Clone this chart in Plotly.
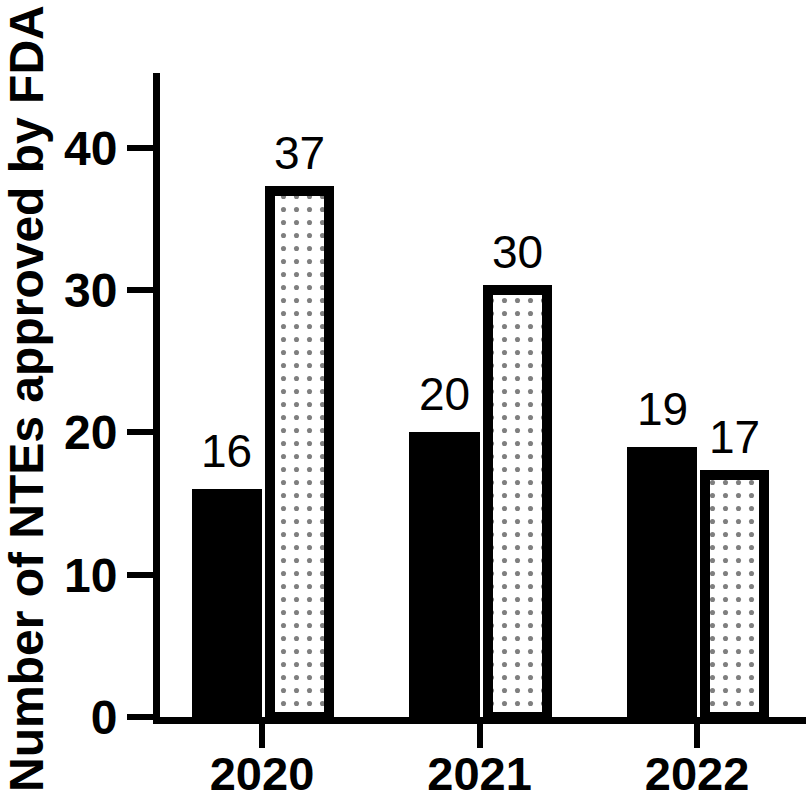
import plotly.graph_objects as go

years = [2020, 2021, 2022]
series_a = [16, 20, 19]   # black bars
series_b = [37, 30, 17]   # dotted bars
y_ticks = [0, 10, 20, 30, 40]
x_tick_labels = ["2020", "2021", "2022"]
y_title = "Number of NTEs approved by FDA"

FONT = "Liberation Sans, Arial, sans-serif"

fig = go.Figure()

fig.add_trace(go.Bar(
    x=years, y=series_a,
    offset=-0.322, width=0.322,
    marker=dict(color="black", line=dict(width=0)),
    showlegend=False,
))
fig.add_trace(go.Bar(
    x=years, y=series_b,
    offset=0.037, width=0.271,
    marker=dict(
        color="white",
        line=dict(color="black", width=10),
        pattern=dict(shape=".", fgcolor="black", bgcolor="white",
                     size=13, solidity=0.12, fillmode="overlay"),
    ),
    showlegend=False,
))

# value labels
for xs, ys, off, w in [(years, series_a, -0.322, 0.322), (years, series_b, 0.037, 0.271)]:
    for x, y in zip(xs, ys):
        fig.add_annotation(
            x=x + off + w / 2, y=y, text=str(y), showarrow=False,
            xanchor="center", yanchor="bottom", yshift=10,
            font=dict(family=FONT, size=46, color="black"),
        )

# y-axis title (as rotated annotation for precise placement)
fig.add_annotation(
    text=y_title, textangle=-90, showarrow=False,
    xref="paper", yref="paper", x=0, y=0.4938,
    xanchor="center", yanchor="middle", xshift=-133,
    font=dict(family=FONT, size=48, color="black", weight="bold"),
)

fig.update_layout(
    width=806, height=801,
    margin=dict(l=160, r=0, t=73, b=84, autoexpand=False),
    paper_bgcolor="white", plot_bgcolor="white",
    barmode="overlay",
    bargap=0,
)
fig.update_xaxes(
    automargin=False,
    range=[2019.531, 2022.501],
    tickvals=years, ticktext=x_tick_labels,
    showline=True, linecolor="black", linewidth=7,
    ticks="outside", ticklen=24, tickwidth=6, tickcolor="black",
    ticklabelstandoff=-14,
    tickfont=dict(family=FONT, size=47, color="black", weight="bold"),
    showgrid=False, zeroline=False,
)
fig.update_yaxes(
    automargin=False,
    range=[0, 45.27],
    tickvals=y_ticks,
    showline=True, linecolor="black", linewidth=7,
    ticks="outside", ticklen=26, tickwidth=6, tickcolor="black",
    tickfont=dict(family=FONT, size=48, color="black", weight="bold"),
    showgrid=False, zeroline=False,
)

fig.write_html("out.html", config={"displayModeBar": False},
               post_script="document.body.style.margin='0';")
